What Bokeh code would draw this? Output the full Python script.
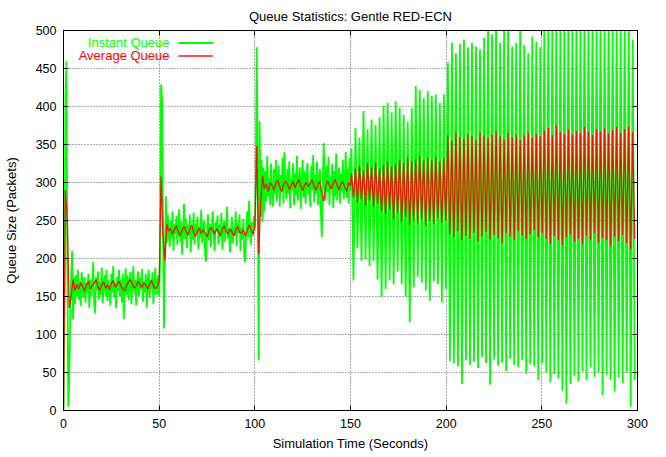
import numpy as np
from bokeh.plotting import figure
from bokeh.models import (ColumnDataSource, Range1d, LinearAxis, FixedTicker, Label,
                          Legend, LegendItem, CustomJSTickFormatter)
from bokeh.core.properties import value
from bokeh.embed import file_html
from bokeh.resources import INLINE

# ---------------- data ----------------
x_ticks = [0, 50, 100, 150, 200, 250, 300]
y_ticks = [0, 50, 100, 150, 200, 250, 300, 350, 400, 450, 500]

# Instant queue, sampled every 0.5 s (chunk start times)
inst_a_start = 0.0
inst_a = [0, 150, 410, 460, 200, 5, 40, 120, 175, 210, 120, 175]
inst_b_start = 6.0
inst_b = [140, 178, 150, 185, 145, 170, 138, 182, 160, 148,
          176, 142, 168, 155, 180, 135, 172, 150, 165, 195,
          140, 128, 175, 158, 183, 146, 170, 152, 188, 141,
          165, 178, 150, 185, 144, 172, 160, 138, 180, 155,
          190, 148, 168, 135, 176, 158, 185, 150, 172, 142,
          180, 120, 165, 187, 152, 178, 145, 170, 182, 140,
          165, 190, 155, 172, 138, 168, 183, 150, 175, 160,
          186, 143, 170, 155, 180, 135, 168, 185, 148, 172,
          160, 182, 140, 170, 188, 152, 165, 178, 150]
inst_c_start = 50.5
inst_c = [200, 429, 410, 250, 108, 200, 282, 220, 258, 232]
inst_d_start = 55.5
inst_d = [215, 250, 228, 262, 210, 245, 232, 256, 218, 240,
          265, 222, 248, 205, 238, 272, 226, 252, 214, 244,
          230, 258, 208, 240, 225, 260, 218, 246, 234, 255,
          212, 242, 228, 264, 220, 238, 250, 206, 196, 235,
          258, 224, 246, 215, 240, 262, 230, 210, 248, 236,
          257, 218, 244, 228, 260, 212, 238, 250, 222, 245,
          268, 226, 240, 208, 234, 255, 220, 242, 230, 262,
          216, 246, 233, 258, 210, 240, 225, 252, 200, 195,
          236, 262, 228, 276, 238, 218, 248, 230, 256, 240]
inst_e_start = 100.5
inst_e = [300, 478, 320, 66, 381, 255, 330, 248, 320]
inst_f_start = 105.0
inst_f = [262, 315, 275, 335, 282, 305, 270, 325, 290, 268,
          318, 285, 330, 275, 300, 322, 268, 310, 288, 333,
          272, 340, 295, 278, 318, 285, 328, 266, 305, 290,
          325, 270, 312, 283, 335, 276, 302, 320, 265, 298,
          330, 280, 315, 272, 308, 326, 284, 300, 268, 322,
          290, 336, 274, 310, 286, 328, 270, 304, 318, 262,
          228, 296, 352, 300, 276, 322, 288, 334, 270, 308,
          292, 325, 266, 315, 282, 338, 276, 300, 320, 272,
          312, 288, 330, 278, 305, 340, 280, 318, 272, 332, 290]

# Oscillation phase (t >= 150): one peak and one trough per ~2.1 s cycle
osc_start = 150.5
osc_period = 2.1
inst_hi = [345, 372, 359, 394, 370, 383, 376, 386, 401, 405,
           392, 407, 398, 389, 380, 398, 427, 422, 411, 420,
           414, 416, 405, 416, 458, 484, 470, 482, 488, 478,
           484, 479, 475, 490, 505, 495, 510, 484, 505, 512,
           479, 484, 508, 481, 470, 492, 485, 478, 505, 510,
           512, 520, 503, 515, 525, 508, 518, 506, 522, 510,
           515, 504, 520, 512, 526, 508, 517, 503, 521, 510, 488]
inst_lo = [171, 214, 197, 199, 190, 197, 172, 149, 160, 171,
           166, 183, 166, 149, 116, 162, 176, 168, 158, 144,
           170, 166, 142, 160, 65, 62, 58, 35, 66, 60,
           64, 56, 70, 62, 34, 67, 59, 63, 52, 68,
           60, 57, 66, 48, 61, 58, 40, 62, 50, 37,
           48, 42, 26, 9, 35, 45, 38, 52, 40, 57,
           44, 50, 20, 47, 40, 25, 43, 36, 50, 5, 40]

# Average queue, sampled every 1 s
avg_a_start = 0.0
avg_a = [0, 290, 250, 135, 150]
avg_b_start = 5.0
avg_b = [172, 158, 166, 160, 168, 163, 157, 165, 170, 160,
         164, 168, 172, 163, 158, 166, 169, 161, 165, 159,
         167, 171, 162, 166, 170, 164, 160, 157, 165, 169,
         172, 166, 161, 164, 170, 166, 162, 168, 165, 160,
         166, 171, 164, 160, 163, 170]
avg_c_start = 51.0
avg_c = [308, 230, 197, 245]
avg_d_start = 55.0
avg_d = [236, 240, 232, 238, 243, 235, 230, 237, 242, 236,
         231, 238, 244, 235, 229, 236, 240, 233, 238, 234,
         228, 236, 241, 237, 232, 239, 235, 230, 238, 243,
         236, 232, 239, 235, 230, 237, 242, 235, 233, 238,
         230, 236, 244, 238, 232, 240]
avg_e_start = 101.0
avg_e = [348, 206, 270, 309]
avg_f_start = 105.0
avg_f = [292, 298, 288, 300, 296, 290, 299, 303, 294, 288,
         297, 302, 298, 291, 296, 301, 293, 299, 304, 296,
         289, 297, 300, 294, 299, 303, 295, 290, 298, 301,
         285, 275, 296, 302, 297, 291, 299, 304, 296, 290,
         298, 301, 294, 288, 300, 296]
avg_hi = [312, 318, 322, 316, 325, 320, 326, 318, 323, 328,
          321, 325, 330, 326, 333, 328, 331, 335, 329, 333,
          330, 334, 328, 332, 362, 355, 367, 360, 358, 364,
          361, 357, 366, 362, 359, 363, 368, 361, 357, 365,
          360, 363, 356, 362, 366, 359, 364, 361, 368, 372,
          362, 375, 366, 364, 370, 363, 368, 365, 373, 366,
          362, 370, 367, 371, 364, 369, 373, 365, 370, 374, 366]
avg_lo = [280, 274, 278, 270, 276, 268, 272, 262, 258, 265,
          252, 260, 248, 255, 244, 250, 246, 252, 243, 249,
          245, 253, 247, 250, 232, 228, 236, 224, 230, 226,
          234, 222, 229, 235, 225, 231, 227, 220, 233, 229,
          224, 236, 230, 226, 232, 238, 228, 234, 226, 220,
          230, 224, 218, 228, 232, 222, 226, 219, 230, 225,
          233, 221, 227, 224, 216, 229, 223, 231, 220, 212, 226]

# ---------------- assemble series ----------------
def chunk(start, step, vals):
    return start + step * np.arange(len(vals)), np.asarray(vals, dtype=float)

def osc(hi, lo):
    n = len(hi)
    t = np.empty(2 * n)
    v = np.empty(2 * n)
    t[0::2] = osc_start + osc_period * np.arange(n)
    t[1::2] = osc_start + osc_period * np.arange(n) + osc_period / 2
    v[0::2] = hi
    v[1::2] = lo
    return t, v

inst_parts = [chunk(inst_a_start, 0.5, inst_a), chunk(inst_b_start, 0.5, inst_b),
              chunk(inst_c_start, 0.5, inst_c), chunk(inst_d_start, 0.5, inst_d),
              chunk(inst_e_start, 0.5, inst_e), chunk(inst_f_start, 0.5, inst_f),
              osc(inst_hi, inst_lo)]
avg_parts = [chunk(avg_a_start, 1.0, avg_a), chunk(avg_b_start, 1.0, avg_b),
             chunk(avg_c_start, 1.0, avg_c), chunk(avg_d_start, 1.0, avg_d),
             chunk(avg_e_start, 1.0, avg_e), chunk(avg_f_start, 1.0, avg_f),
             osc(avg_hi, avg_lo)]

inst_src = ColumnDataSource(dict(t=np.concatenate([p[0] for p in inst_parts]),
                                 q=np.concatenate([p[1] for p in inst_parts])))
avg_src = ColumnDataSource(dict(t=np.concatenate([p[0] for p in avg_parts]),
                                q=np.concatenate([p[1] for p in avg_parts])))

# ---------------- figure ----------------
FONT = "Liberation Sans"
GREEN = "#00ff00"
RED = "#ff0000"

p = figure(frame_width=574, frame_height=380,
           x_range=Range1d(0, 300), y_range=Range1d(0, 500),
           output_backend="svg", toolbar_location=None,
           title="Queue Statistics: Gentle RED-ECN",
           min_border_left=55, min_border_right=22, min_border_top=22, min_border_bottom=0)

p.title.align = "center"
p.title.text_font = FONT
p.title.text_font_size = "13px"
p.title.text_font_style = "normal"
p.title.text_color = "#000000"
p.title.standoff = 13

p.outline_line_color = "#000000"
p.outline_line_width = 1
p.background_fill_color = "white"
p.border_fill_color = "white"

for ax in (p.xaxis[0], p.yaxis[0]):
    ax.major_tick_in = 5
    ax.major_tick_out = 0
    ax.minor_tick_in = 0
    ax.minor_tick_out = 0
    ax.axis_line_color = "#000000"
    ax.major_tick_line_color = "#000000"
    ax.major_label_text_font = FONT
    ax.major_label_text_font_size = "12.5px"
    ax.major_label_text_color = "#000000"
    ax.axis_label_text_font = FONT
    ax.axis_label_text_font_size = "13px"
    ax.axis_label_text_font_style = "normal"
    ax.axis_label_text_color = "#000000"

p.xaxis.ticker = FixedTicker(ticks=x_ticks)
p.yaxis.ticker = FixedTicker(ticks=y_ticks)
p.xaxis.axis_label = "Simulation Time (Seconds)"
p.yaxis.axis_label = "Queue Size (Packets)"
p.xaxis.major_label_standoff = 8
p.yaxis.major_label_standoff = 7
p.xaxis.axis_label_standoff = 5
p.yaxis.axis_label_standoff = 14

p.xgrid.ticker = FixedTicker(ticks=x_ticks)
p.ygrid.ticker = FixedTicker(ticks=y_ticks)
p.grid.grid_line_color = "#555555"
p.grid.grid_line_dash = "1 2"
p.grid.grid_line_width = 1

# mirror ticks on top and right
top_ax = LinearAxis(ticker=FixedTicker(ticks=x_ticks), formatter=CustomJSTickFormatter(code="return ''"),
                    major_tick_in=5, major_tick_out=0, minor_tick_in=0, minor_tick_out=0,
                    major_label_standoff=0, axis_line_color="#000000")
right_ax = LinearAxis(ticker=FixedTicker(ticks=y_ticks), formatter=CustomJSTickFormatter(code="return ''"),
                      major_tick_in=5, major_tick_out=0, minor_tick_in=0, minor_tick_out=0,
                      major_label_standoff=0, axis_line_color="#000000")
p.add_layout(top_ax, "above")
p.add_layout(right_ax, "right")

g = p.line("t", "q", source=inst_src, line_color=GREEN, line_width=1.8)
r = p.line("t", "q", source=avg_src, line_color=RED, line_width=1.3, line_alpha=0.9)

leg = Legend(items=[LegendItem(label=value(""), renderers=[g]),
                    LegendItem(label=value(""), renderers=[r])],
             location=(115, 348), orientation="vertical",
             glyph_width=35, glyph_height=13, label_height=13, label_width=0,
             label_standoff=0, padding=0, spacing=0, margin=0,
             border_line_color=None, background_fill_alpha=0)
p.add_layout(leg)

p.add_layout(Label(x=106, y=368, x_units="screen", y_units="screen", text="Instant Queue",
                   text_align="right", text_baseline="middle", text_color=GREEN,
                   text_font=FONT, text_font_size="13px"))
p.add_layout(Label(x=106, y=355, x_units="screen", y_units="screen", text="Average Queue",
                   text_align="right", text_baseline="middle", text_color=RED,
                   text_font=FONT, text_font_size="13px"))

open("out.html", "w").write(file_html(p, INLINE))
